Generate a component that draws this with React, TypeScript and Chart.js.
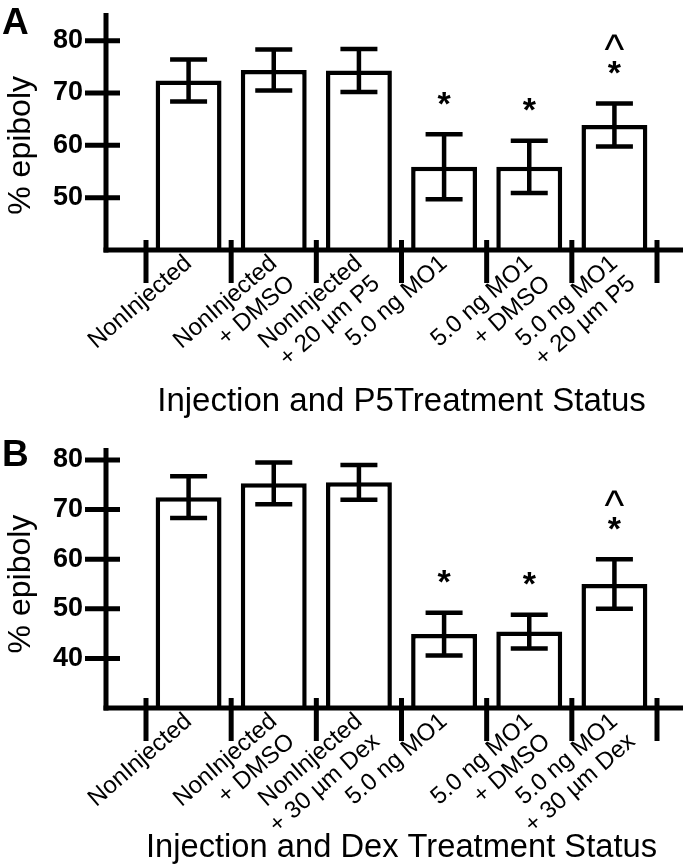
import React, { useEffect, useRef } from "react";
import { Chart, registerables } from "chart.js";

Chart.register(...registerables);

const FONT = "'Liberation Sans', Arial, Helvetica, sans-serif";

// ---------- Panel A data ----------
const categoriesA = [
  ["NonInjected"],
  ["NonInjected", "+ DMSO"],
  ["NonInjected", "+ 20 µm P5"],
  ["5.0 ng MO1"],
  ["5.0 ng MO1", "+ DMSO"],
  ["5.0 ng MO1", "+ 20 µm P5"],
];
const meansA = [72.4, 74.4, 74.3, 55.9, 55.9, 63.9];
const semA = [4.0, 3.9, 4.1, 6.2, 5.0, 4.1];
const marksA = ["", "", "", "*", "*", "^*"];
const yTicksA = [50, 60, 70, 80];
const yMinA = 40;
const yMaxA = 80;
const yAxisTopA = 85.3;
const xTitleA = "Injection and P5Treatment Status";

// ---------- Panel B data ----------
const categoriesB = [
  ["NonInjected"],
  ["NonInjected", "+ DMSO"],
  ["NonInjected", "+ 30 µm Dex"],
  ["5.0 ng MO1"],
  ["5.0 ng MO1", "+ DMSO"],
  ["5.0 ng MO1", "+ 30 µm Dex"],
];
const meansB = [72.5, 75.3, 75.5, 44.9, 45.4, 55.0];
const semB = [4.2, 4.2, 3.5, 4.3, 3.4, 5.0];
const marksB = ["", "", "", "*", "*", "^*"];
const yTicksB = [40, 50, 60, 70, 80];
const yMinB = 30;
const yMaxB = 80;
const yAxisTopB = 82.4;
const xTitleB = "Injection and Dex Treatment Status";

const yTitle = "% epiboly";

type PanelCfg = {
  categories: string[][];
  means: number[];
  sem: number[];
  marks: string[];
  yTicks: number[];
  yMin: number;
  yMax: number;
  yAxisTop: number;
  xTitle: string;
  padTop: number;
  xScaleHeight: number;
  xTitlePadBottom: number;
};

const decorPlugin = {
  id: "decor",
  afterDatasetsDraw(chart: any, _args: any, opts: any) {
    const { ctx, chartArea } = chart;
    const x = chart.scales.x;
    const y = chart.scales.y;
    const axisX = chartArea.left - 40;
    const axisY = chartArea.bottom;
    const line = (x1: number, y1: number, x2: number, y2: number) => {
      ctx.beginPath();
      ctx.moveTo(x1, y1);
      ctx.lineTo(x2, y2);
      ctx.stroke();
    };
    ctx.save();
    ctx.strokeStyle = "#000";
    ctx.fillStyle = "#000";
    ctx.lineCap = "butt";
    ctx.lineWidth = 5;
    // y axis line
    line(axisX, y.getPixelForValue(opts.yAxisTop), axisX, axisY + 2.5);
    // x axis line
    line(axisX - 2.5, axisY, chart.width - 5, axisY);
    // y tick marks crossing the axis
    for (const v of opts.yTicks) {
      const py = y.getPixelForValue(v);
      line(axisX - 21, py, axisX + 14, py);
    }
    // x category boundary ticks
    const n = opts.means.length;
    const half = (x.getPixelForValue(1) - x.getPixelForValue(0)) / 2;
    for (let i = 0; i <= n; i++) {
      const px = i < n ? x.getPixelForValue(i) - half : x.getPixelForValue(n - 1) + half;
      line(px, axisY - 10, px, axisY + 33);
    }
    // error bars + significance marks
    ctx.lineWidth = 4.5;
    for (let i = 0; i < n; i++) {
      const cx = x.getPixelForValue(i);
      const top = y.getPixelForValue(opts.means[i] + opts.sem[i]);
      const bot = y.getPixelForValue(opts.means[i] - opts.sem[i]);
      line(cx, top, cx, bot);
      line(cx - 18.5, top, cx + 18.5, top);
      line(cx - 18.5, bot, cx + 18.5, bot);
      const mark = opts.marks[i] || "";
      ctx.textAlign = "center";
      ctx.textBaseline = "alphabetic";
      if (mark.includes("*")) {
        const cy = top - 39;
        ctx.font = `bold 34px ${FONT}`;
        ctx.fillText("*", cx, cy + 0.57 * 34);
      }
      if (mark.includes("^")) {
        const cy = top - 61;
        ctx.font = `42px ${FONT}`;
        ctx.fillText("^", cx, cy + 0.52 * 42);
      }
    }
    ctx.restore();
  },
};

function Panel({ cfg }: { cfg: PanelCfg }) {
  const ref = useRef<HTMLCanvasElement | null>(null);
  useEffect(() => {
    if (!ref.current) return;
    const chart = new Chart(ref.current, {
      type: "bar",
      data: {
        labels: cfg.categories as any,
        datasets: [
          {
            data: cfg.means,
            backgroundColor: "#ffffff",
            borderColor: "#000000",
            borderWidth: 4.5,
            borderSkipped: "start",
            barPercentage: 0.774,
            categoryPercentage: 1,
          },
        ],
      },
      options: {
        responsive: false,
        animation: false,
        layout: { padding: { top: cfg.padTop, right: 31, left: 0, bottom: 0 } },
        plugins: {
          legend: { display: false },
          tooltip: { enabled: false },
          decor: {
            means: cfg.means,
            sem: cfg.sem,
            marks: cfg.marks,
            yTicks: cfg.yTicks,
            yAxisTop: cfg.yAxisTop,
          },
        } as any,
        scales: {
          x: {
            grid: { display: false, drawTicks: false, tickLength: 0 },
            border: { display: false },
            afterFit: (s: any) => {
              s.height = cfg.xScaleHeight;
            },
            ticks: {
              autoSkip: false,
              minRotation: 41,
              maxRotation: 41,
              padding: 0,
              color: "#000",
              font: { family: FONT, size: 24, lineHeight: 1.12 },
            },
            title: {
              display: true,
              text: cfg.xTitle,
              color: "#000",
              font: { family: FONT, size: 33 },
              padding: { top: 0, bottom: cfg.xTitlePadBottom },
            },
          },
          y: {
            min: cfg.yMin,
            max: cfg.yMax,
            afterBuildTicks: (s: any) => {
              s.ticks = cfg.yTicks.map((v) => ({ value: v }));
            },
            afterFit: (s: any) => {
              s.width = 146;
            },
            grid: {
              display: true,
              drawOnChartArea: false,
              drawTicks: true,
              tickLength: 60,
              tickColor: "rgba(0,0,0,0)",
              color: "rgba(0,0,0,0)",
            },
            border: { display: false },
            ticks: {
              padding: 3,
              color: "#000",
              font: { family: FONT, size: 27, weight: "bold" },
            },
            title: {
              display: true,
              text: yTitle,
              color: "#000",
              font: { family: FONT, size: 32 },
              padding: { top: 2, bottom: 0 },
            },
          },
        },
      } as any,
      plugins: [decorPlugin as any],
    });
    return () => chart.destroy();
  }, [cfg]);
  return <canvas ref={ref} width={688} height={434} style={{ display: "block", width: 688, height: 434 }} />;
}

const cfgA: PanelCfg = {
  categories: categoriesA,
  means: meansA,
  sem: semA,
  marks: marksA,
  yTicks: yTicksA,
  yMin: yMinA,
  yMax: yMaxA,
  yAxisTop: yAxisTopA,
  xTitle: xTitleA,
  padTop: 40.7,
  xScaleHeight: 184,
  xTitlePadBottom: 12,
};

const cfgB: PanelCfg = {
  categories: categoriesB,
  means: meansB,
  sem: semB,
  marks: marksB,
  yTicks: yTicksB,
  yMin: yMinB,
  yMax: yMaxB,
  yAxisTop: yAxisTopB,
  xTitle: xTitleB,
  padTop: 26,
  xScaleHeight: 160,
  xTitlePadBottom: 0,
};

const letterStyle: React.CSSProperties = {
  position: "absolute",
  left: 2,
  fontFamily: FONT,
  fontWeight: "bold",
  fontSize: 37,
  lineHeight: "37px",
  color: "#000",
};

export default function App() {
  return (
    <div style={{ position: "absolute", left: 0, top: 0, width: 688, height: 868, background: "#fff" }}>
      <div style={{ position: "absolute", left: 0, top: 0 }}>
        <Panel cfg={cfgA} />
      </div>
      <div style={{ position: "absolute", left: 0, top: 434 }}>
        <Panel cfg={cfgB} />
      </div>
      <div style={{ ...letterStyle, top: 3 }}>A</div>
      <div style={{ ...letterStyle, top: 435 }}>B</div>
    </div>
  );
}
